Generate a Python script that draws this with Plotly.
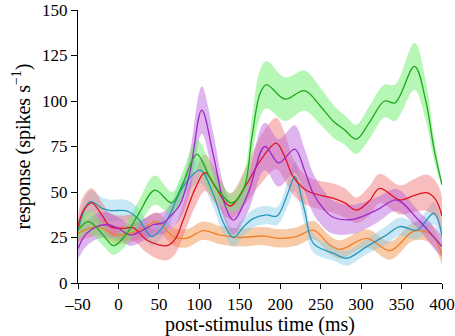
import plotly.graph_objects as go

# ---- data ----
green_x = [-50, -37, -20, -6, 10, 25, 45, 66, 80, 97, 113, 125, 140, 155, 165, 175, 183, 206, 230, 250, 266, 280, 294, 310, 329, 342, 366, 380, 390, 400]
green_y = [29, 33.7, 27, 20.5, 27, 38, 51, 44, 55, 70.7, 58, 50, 44, 52, 80, 104, 109, 101, 105.7, 97, 88.7, 84, 79, 88, 100, 99, 119, 100, 74, 54]
green_e = [5, 6, 6, 5, 6, 7, 8, 6, 7, 8, 8, 6, 5, 8, 11, 13, 13, 12, 11, 10, 9, 8, 8, 9, 9, 10, 13, 11, 6, 1]

purple_x = [-50, -40, -27, -15, 0, 14, 30, 43, 55, 65, 76, 88, 103, 117, 130, 142, 160, 181, 198, 218, 230, 241, 255, 266, 290, 319, 344, 370, 400]
purple_y = [19, 27, 31, 32, 30, 26.4, 29, 32, 33, 37, 43, 60, 95, 71, 45, 34.6, 49, 75, 66, 73.6, 62, 49, 40, 36, 35, 40, 45.6, 35, 20]
purple_e = [6, 7, 7, 7, 6, 6, 6, 6, 6, 7, 8, 11, 13, 12, 9, 8, 10, 13, 13, 13, 12, 11, 10, 9, 8, 7, 6, 5, 5]

red_x = [-50, -43, -33, -20, -10, 5, 18, 35, 50, 60, 70, 80, 95, 107, 121, 138, 158, 175, 195, 205, 216, 233, 266, 280, 294, 310, 323, 348, 365, 381, 392, 400]
red_y = [31, 40, 44, 37, 31, 30, 30.4, 23.6, 21, 20.5, 24, 34.6, 52, 60.6, 52, 42.3, 54, 67, 76.8, 70, 58.4, 50.7, 46.5, 44, 40, 45, 52, 45.6, 48, 49.6, 46, 36.8]
red_e = [7, 8, 8, 7, 7, 7, 7, 7, 8, 8, 8, 9, 10, 10, 9, 7, 10, 13, 14, 13, 10, 8, 8, 8, 7, 8, 8, 8, 9, 10, 10, 10]

cyan_x = [-50, -35, -20, -10, 10, 25, 41, 55, 64, 80, 101, 117, 130, 142, 155, 167, 183, 196, 210, 218, 230, 241, 266, 282, 307, 330, 348, 369, 390, 400]
cyan_y = [29, 44.7, 41, 39.8, 39.6, 35, 25.5, 31, 38, 53, 62, 49, 33, 25, 31, 35.5, 37.4, 36.8, 50, 58.4, 40, 21.8, 16.3, 13.6, 20, 26, 31, 29, 38.3, 25.5]
cyan_e = [5, 6, 6, 6, 6, 6, 5, 5, 5, 6, 7, 7, 6, 5, 5, 5, 5, 5, 7, 8, 7, 5, 4, 4, 4, 5, 5, 5, 6, 5]

orange_x = [-50, -27, -2, 27, 47, 68, 84, 105, 125, 150, 179, 200, 220, 241, 261, 274, 307, 336, 364, 381, 392, 400]
orange_y = [27.3, 31, 26.4, 29, 33.7, 25.5, 24.5, 28.8, 26.4, 25, 25.8, 24.5, 25.5, 29, 21, 18.5, 24.5, 17.8, 28.2, 28, 24, 14.5]
orange_e = [5, 5, 5, 5, 5, 5, 5, 5, 5, 5, 5, 5, 5, 5, 5, 5, 5, 5, 5, 5, 5, 4]

x_ticks = [-50, 0, 50, 100, 150, 200, 250, 300, 350, 400]
x_labels = ["\u201350", "0", "50", "100", "150", "200", "250", "300", "350", "400"]
y_ticks = [0, 25, 50, 75, 100, 125, 150]

series = [
    (orange_x, orange_y, orange_e, "rgb(240,128,40)", "rgba(242,150,80,0.5)"),
    (cyan_x, cyan_y, cyan_e, "rgb(40,150,190)", "rgba(130,205,230,0.45)"),
    (red_x, red_y, red_e, "rgb(225,20,30)", "rgba(240,110,110,0.45)"),
    (purple_x, purple_y, purple_e, "rgb(160,40,200)", "rgba(185,90,220,0.45)"),
    (green_x, green_y, green_e, "rgb(30,170,30)", "rgba(110,240,110,0.5)"),
]

fig = go.Figure()
for xs, ys, es, lc, fc in series:
    up = [y + e for y, e in zip(ys, es)]
    lo = [y - e for y, e in zip(ys, es)]
    fig.add_trace(go.Scatter(
        x=list(xs) + list(xs)[::-1], y=up + lo[::-1],
        mode="lines", line=dict(width=0, shape="spline", smoothing=1.0),
        fill="toself", fillcolor=fc, hoverinfo="skip", showlegend=False))
for xs, ys, es, lc, fc in series:
    fig.add_trace(go.Scatter(
        x=xs, y=ys, mode="lines",
        line=dict(color=lc, width=1.3, shape="spline", smoothing=1.0),
        showlegend=False))

font = dict(family="Liberation Serif", size=17, color="black")
fig.update_layout(
    width=455, height=336,
    margin=dict(l=78, r=13, t=10, b=53),
    paper_bgcolor="white", plot_bgcolor="white",
    font=font,
    xaxis=dict(range=[-50, 400], tickvals=x_ticks, ticktext=x_labels, automargin=False,
               showline=True, linecolor="black", linewidth=1.2, ticks="outside", ticklen=5,
               tickcolor="black", showgrid=False, zeroline=False, ticklabeloverflow="allow",
               title=dict(text="post-stimulus time (ms)", standoff=2)),
    yaxis=dict(range=[0, 150], tickvals=y_ticks, automargin=False, showline=True, linecolor="black", linewidth=1.2,
               ticks="outside", ticklen=6, tickcolor="black", showgrid=False, zeroline=False,
               ticklabeloverflow="allow",
               title=dict(text="response (spikes s<sup>\u22121</sup>)", standoff=6)),
)
fig.write_html("out.html", config={"displayModeBar": False},
               post_script="document.body.style.margin='0px';")
